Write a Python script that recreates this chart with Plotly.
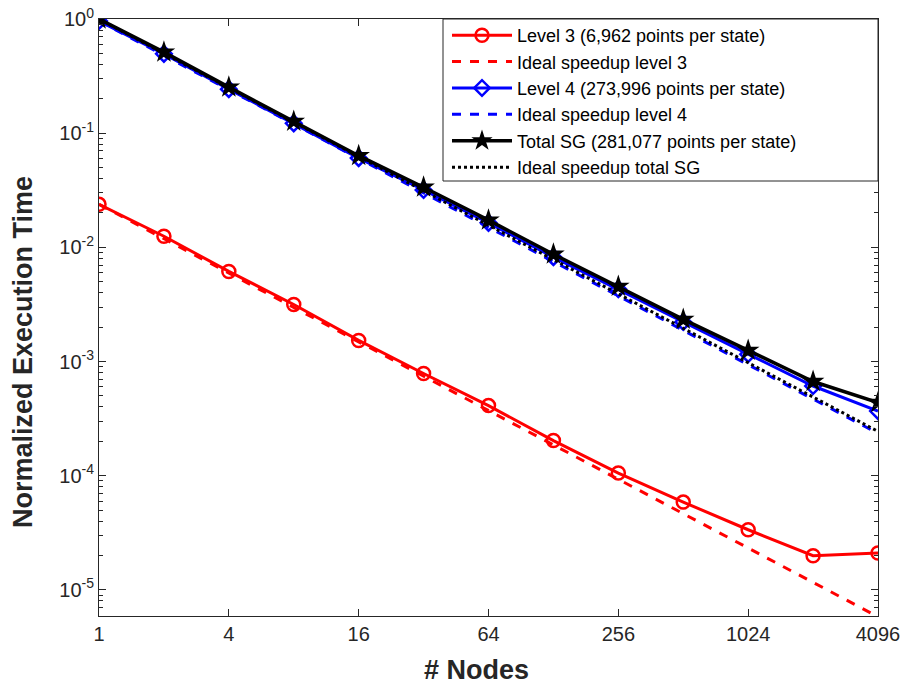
import numpy as np
import plotly.graph_objects as go

nodes = [1, 2, 4, 8, 16, 32, 64, 128, 256, 512, 1024, 2048, 4096]
level3 = [0.0238, 0.0125, 0.00615, 0.00316, 0.00153, 0.000785, 0.000411,
          0.000203, 0.0001055, 5.87e-5, 3.36e-5, 1.99e-5, 2.1e-5]
level4 = [0.96, 0.495, 0.243, 0.122, 0.0605, 0.0318, 0.0164,
          0.0082, 0.0043, 0.00222, 0.00116, 0.00061, 0.000368]
total = [1.0, 0.513, 0.253, 0.127, 0.0635, 0.0336, 0.0173,
         0.0087, 0.00455, 0.00234, 0.00125, 0.000668, 0.000437]
ideal3 = [level3[0] / n for n in nodes]
ideal4 = [level4[0] / n for n in nodes]
idealT = [total[0] / n for n in nodes]

names = ["Level 3 (6,962 points per state)", "Ideal speedup level 3",
         "Level 4 (273,996 points per state)", "Ideal speedup level 4",
         "Total SG (281,077 points per state)", "Ideal speedup total SG"]

xticks = [1, 4, 16, 64, 256, 1024, 4096]
yticks = [1e-5, 1e-4, 1e-3, 1e-2, 1e-1, 1]
yticktext = ["10<sup>-5</sup>", "10<sup>-4</sup>", "10<sup>-3</sup>",
             "10<sup>-2</sup>", "10<sup>-1</sup>", "10<sup>0</sup>"]
yminor = [m * 10.0 ** e for e in range(-6, 0) for m in range(2, 10)]

fig = go.Figure()
fig.add_trace(go.Scatter(x=nodes, y=level3, name=names[0], mode="lines+markers",
                         line=dict(color="#ff0000", width=3),
                         marker=dict(symbol="circle-open", size=13, color="#ff0000",
                                     line=dict(width=2.5, color="#ff0000"))))
fig.add_trace(go.Scatter(x=nodes, y=ideal3, name=names[1], mode="lines",
                         line=dict(color="#ff0000", width=3, dash="dash")))
fig.add_trace(go.Scatter(x=nodes, y=level4, name=names[2], mode="lines+markers",
                         line=dict(color="#0000ff", width=3),
                         marker=dict(symbol="diamond-open", size=12, color="#0000ff",
                                     line=dict(width=2.5, color="#0000ff"))))
fig.add_trace(go.Scatter(x=nodes, y=ideal4, name=names[3], mode="lines",
                         line=dict(color="#0000ff", width=3, dash="dash")))
fig.add_trace(go.Scatter(x=nodes, y=total, name=names[4], mode="lines+markers",
                         line=dict(color="#000000", width=3.5),
                         marker=dict(symbol="star", size=17, color="#000000")))
fig.add_trace(go.Scatter(x=nodes, y=idealT, name=names[5], mode="lines",
                         line=dict(color="#000000", width=3, dash="dot")))

axcol = "#262626"
# legend frame (paper coordinates)
leg_x0 = (443 - 99) / 779
leg_y0 = (616 - 181) / 597

fig.update_layout(
    width=902, height=684,
    margin=dict(l=99, r=24, t=19, b=68),
    paper_bgcolor="white", plot_bgcolor="white",
    font=dict(family="Liberation Sans, Arial, sans-serif", color=axcol, size=20),
    showlegend=True,
    legend=dict(x=(447 - 99) / 779, y=1.0034, xanchor="left", yanchor="top",
                bgcolor="rgba(0,0,0,0)", borderwidth=0,
                font=dict(size=18, color="#000000"), itemwidth=60,
                tracegroupgap=0),
    shapes=[dict(type="rect", xref="paper", yref="paper",
                 x0=leg_x0, x1=1, y0=leg_y0, y1=1, layer="above",
                 fillcolor="white", line=dict(color=axcol, width=1))],
    annotations=[
        dict(text="<b>Normalized Execution Time</b>", textangle=-90,
             xref="paper", yref="paper", x=-0.0976, y=0.442,
             xanchor="center", yanchor="middle", showarrow=False,
             font=dict(size=27, color=axcol)),
        dict(text="<b># Nodes</b>",
             xref="paper", yref="paper", x=0.484, y=-0.0905,
             xanchor="center", yanchor="middle", showarrow=False,
             font=dict(size=27, color=axcol)),
    ],
)
fig.update_xaxes(type="log", range=[0, np.log10(4096)], automargin=False,
                 tickmode="array", tickvals=xticks, ticktext=[str(v) for v in xticks],
                 ticks="inside", ticklen=7, tickcolor=axcol,
                 showline=True, linecolor=axcol, linewidth=1, mirror="allticks",
                 showgrid=False, zeroline=False)
fig.update_yaxes(type="log", range=[np.log10(5.9e-6), 0], automargin=False,
                 tickmode="array", tickvals=yticks, ticktext=yticktext,
                 ticks="inside", ticklen=7, tickcolor=axcol,
                 minor=dict(tickmode="array", tickvals=yminor, ticks="inside",
                            ticklen=4, tickcolor=axcol, showgrid=False),
                 showline=True, linecolor=axcol, linewidth=1, mirror="allticks",
                 showgrid=False, zeroline=False)

fig.write_html("out.html")
